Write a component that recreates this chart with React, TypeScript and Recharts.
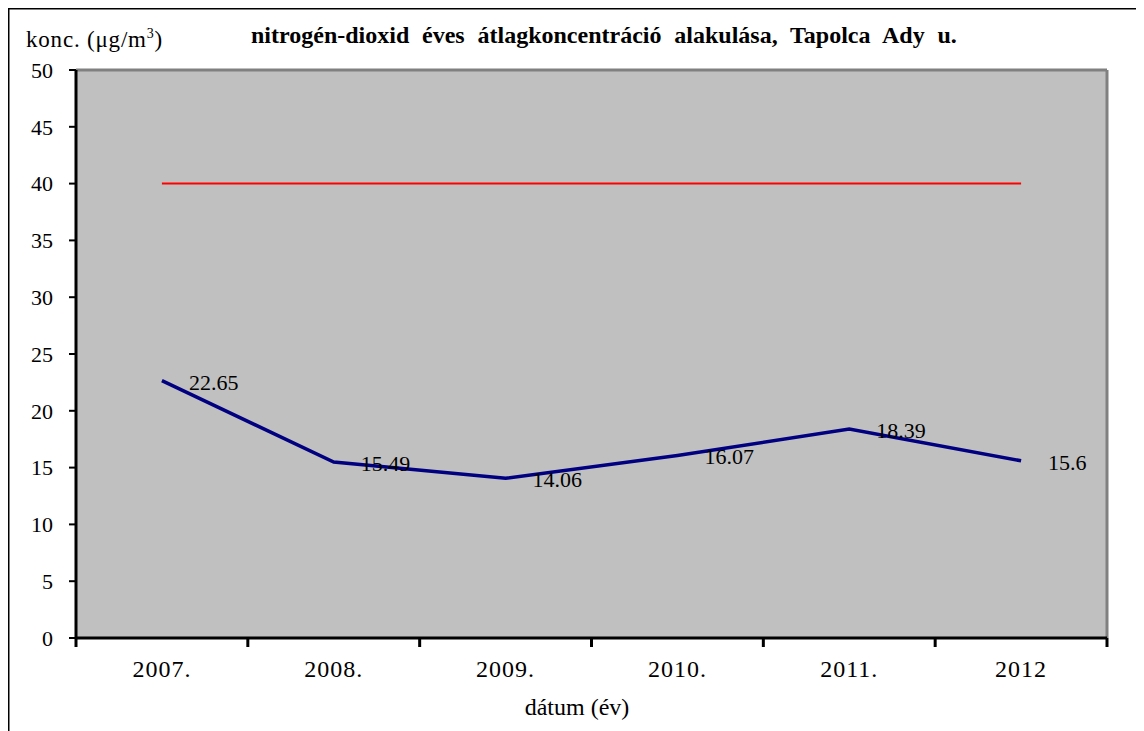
import { CartesianGrid, LabelList, Line, LineChart, ReferenceLine, XAxis, YAxis } from 'recharts';

const years = ['2007.', '2008.', '2009.', '2010.', '2011.', '2012'];
const no2 = [22.65, 15.49, 14.06, 16.07, 18.39, 15.6];
const limit = [40, 40, 40, 40, 40, 40];
const yTicks = [0, 5, 10, 15, 20, 25, 30, 35, 40, 45, 50];

const data = years.map((year, i) => ({ year, no2: no2[i], limit: limit[i] }));

const serif = '"Liberation Serif", "Times New Roman", serif';

const ValueLabel = (props: any) => {
  const { x, y, value } = props;
  return (
    <text x={x + 27} y={y + 9} fontSize={22} fontFamily={serif} fill="#000">
      {value}
    </text>
  );
};

// category tick: label at band centre, tick mark at band boundaries
const YearTick = (props: any) => {
  const { x, y, payload, index, visibleTicksCount } = props;
  const half = payload.offset ?? 0;
  const last = index === visibleTicksCount - 1;
  return (
    <g>
      <line x1={x - half} x2={x - half} y1={y} y2={y + 9} stroke="#000" strokeWidth={3} />
      {last && <line x1={x + half} x2={x + half} y1={y} y2={y + 9} stroke="#000" strokeWidth={3} />}
      <text
        x={x}
        y={y + 39}
        textAnchor="middle"
        fontSize={24}
        fontFamily={serif}
        letterSpacing={1}
        fill="#000"
      >
        {payload.value}
      </text>
    </g>
  );
};

export default function App() {
  return (
    <div style={{ position: 'relative', width: 1136, height: 723 }}>
      <LineChart
        width={1136}
        height={723}
        data={data}
        margin={{ top: 62, right: 37, left: 0, bottom: 53 }}
      >
        <CartesianGrid fill="#C0C0C0" horizontal={false} vertical={false} />
        <ReferenceLine y={50} stroke="#808080" strokeWidth={3} />
        <ReferenceLine x="2012" position="end" stroke="#808080" strokeWidth={3} />
        <XAxis
          dataKey="year"
          scale="band"
          height={40}
          axisLine={{ stroke: '#000', strokeWidth: 3 }}
          tickLine={false}
          tickSize={0}
          tickMargin={0}
          interval={0}
          tick={<YearTick />}
        />
        <YAxis
          domain={[0, 50]}
          ticks={yTicks}
          width={68}
          interval={0}
          tickSize={7}
          tickMargin={16}
          tickLine={{ stroke: '#000', strokeWidth: 2 }}
          axisLine={{ stroke: '#000', strokeWidth: 3 }}
          tick={{ fontSize: 22, fontFamily: serif, fill: '#000' }}
        />
        <Line
          dataKey="limit"
          stroke="#FF0000"
          strokeWidth={2}
          dot={false}
          isAnimationActive={false}
        />
        <Line
          dataKey="no2"
          stroke="#000080"
          strokeWidth={3.5}
          dot={false}
          isAnimationActive={false}
        >
          <LabelList dataKey="no2" content={ValueLabel} />
        </Line>
      </LineChart>
      <svg
        width={1136}
        height={723}
        style={{ position: 'absolute', left: 0, top: 0, pointerEvents: 'none', overflow: 'visible' }}
      >
        {/* chart area frame */}
        <path d="M0.5,730 V0.5 H1140" fill="none" stroke="#000" strokeWidth={2} />
        <text x={18} y={39} fontSize={23} fontFamily={serif} letterSpacing={0.8} fill="#000">
          konc. (μg/m
          <tspan dy={-9} fontSize={14}>
            3
          </tspan>
          <tspan dy={9}>)</tspan>
        </text>
        <text
          x={243}
          y={35}
          fontSize={24}
          fontWeight="bold"
          fontFamily={serif}
          wordSpacing={6.8}
          fill="#000"
        >
          nitrogén-dioxid éves átlagkoncentráció alakulása, Tapolca Ady u.
        </text>
        <text
          x={569}
          y={707}
          fontSize={24}
          fontFamily={serif}
          textAnchor="middle"
          fill="#000"
        >
          dátum (év)
        </text>
      </svg>
    </div>
  );
}
